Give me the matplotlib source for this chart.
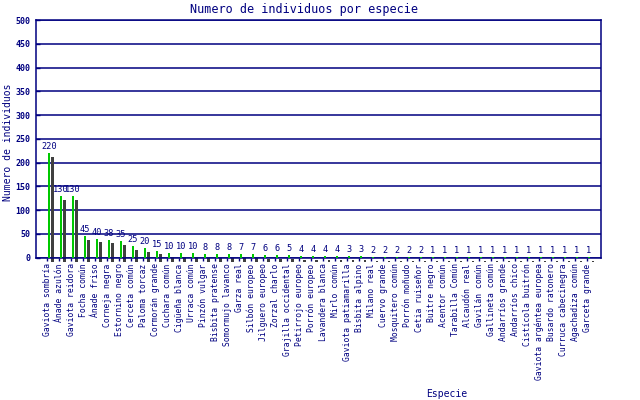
import matplotlib.pyplot as plt
import matplotlib.transforms as mtransforms
import numpy as np

especies = [
    'Gaviota sombría', 'Ánade azulón', 'Gaviota reidora', 'Focha común',
    'Ánade friso', 'Corneja negra', 'Estornino negro', 'Cerceta común',
    'Paloma torcaz', 'Cormorán grande', 'Cuchara común', 'Cigüeña blanca',
    'Urraca común', 'Pinzón vulgar', 'Bisbita pratense', 'Somormujo lavanco',
    'Garza real', 'Silbón europeo', 'Jilguero europeo', 'Zorzal charlo',
    'Grajilla occidental', 'Petirrojo europeo', 'Porrón europeo',
    'Lavandera blanca', 'Mirlo común', 'Gaviota patiamarilla',
    'Bisbita alpino', 'Milano real', 'Cuervo grande', 'Mosquitero común',
    'Porrón moñudo', 'Cetia ruiseñor', 'Buitre negro', 'Acentor común',
    'Tarabilla Común', 'Alcaudón real', 'Gavilán común', 'Gallineta común',
    'Andarríos grande', 'Andarríos chico', 'Cistícola buitrón',
    'Gaviota argéntea europea', 'Busardo ratonero', 'Curruca cabecinegra',
    'Agachadiza común', 'Garceta grande',
]
individuos = [
    220, 130, 130, 45, 40, 38, 35, 25, 20, 15, 10, 10, 10, 8, 8, 8, 7, 7,
    6, 6, 5, 4, 4, 4, 4, 3, 3, 2, 2, 2, 2, 2,
    1, 1, 1, 1, 1, 1, 1, 1, 1, 1, 1, 1, 1, 1,
]

navy = '#000080'
verde = '#00c800'
sombra = '#404040'
mono = 'DejaVu Sans Mono'

fig = plt.figure(figsize=(6.4, 4.0), dpi=100)
ax = fig.add_axes([36 / 640, 1 - 257.7 / 400, 565 / 640, 237.7 / 400])

x = np.arange(len(especies))
ancho = 0.18

# sombra desplazada unos pixeles a la derecha y abajo
trans_sombra = mtransforms.offset_copy(ax.transData, fig=fig, x=3.6, y=-3.8, units='dots')
ax.bar(x, individuos, width=ancho, color=sombra, transform=trans_sombra,
       clip_on=False, zorder=2)
ax.bar(x, individuos, width=ancho, color=verde, zorder=3)

for i, v in enumerate(individuos):
    ax.text(i, v + 4, str(v), ha='center', va='bottom', color=navy,
            family=mono, fontsize=6.2, zorder=4)

ax.set_xlim(-1.08, 46)
ax.set_ylim(0, 500)
ax.set_yticks(np.arange(0, 501, 50))
ax.yaxis.grid(True, color=navy, linewidth=1.1)
ax.set_axisbelow(True)
ax.set_xticks(x - 0.15)
ax.set_xticklabels(especies, rotation=90, family=mono, fontsize=5.8, color=navy)
for t in ax.get_yticklabels():
    t.set_family(mono)
    t.set_fontsize(6)
    t.set_fontweight('bold')
    t.set_color(navy)
ax.tick_params(axis='x', length=2, width=1, color=navy, pad=2)
ax.tick_params(axis='y', length=3, width=1, color=navy, direction='in', pad=4)
for s in ax.spines.values():
    s.set_color(navy)
    s.set_linewidth(1.1)

fig.text(304 / 640, 1 - 9 / 400, 'Numero de individuos por especie', ha='center',
         va='center', color=navy, family=mono, fontsize=8.5)
fig.text(8 / 640, 1 - 142 / 400, 'Numero de individuos', rotation=90, ha='center',
         va='center', color=navy, family=mono, fontsize=7)
fig.text(447 / 640, 1 - 394 / 400, 'Especie', ha='center', va='center',
         color=navy, family=mono, fontsize=7)

fig.savefig('out.png', dpi=100)
